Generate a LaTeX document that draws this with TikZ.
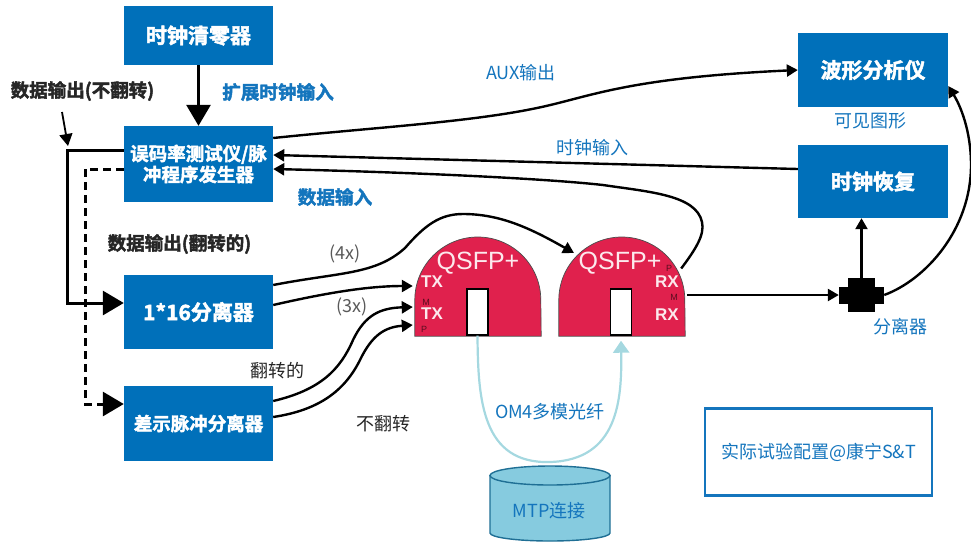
\documentclass[tikz,border=0pt]{standalone}
\usepackage{fontspec}
\setmainfont{Noto Sans CJK SC}
\newfontfamily\heavyfont[FakeBold=2.2]{Noto Sans CJK SC Bold}
\newfontfamily\qfont{Liberation Sans}
\usetikzlibrary{arrows.meta,calc}
\definecolor{boxblue}{HTML}{0070BA}
\definecolor{lblblue}{HTML}{1475BD}
\definecolor{qred}{HTML}{E0214D}
\definecolor{fibre}{HTML}{A5D8E0}
\definecolor{cylfill}{HTML}{86CBDF}
\definecolor{cylline}{HTML}{1F6F95}
\tikzset{
  bluebox/.style={fill=boxblue,text=white,inner sep=0pt,minimum width=149pt,align=center,font=\heavyfont\fontsize{18.5}{21}\selectfont},
  bigtext/.style={font=\heavyfont\fontsize{21}{24}\selectfont},
  blab/.style={text=lblblue,inner sep=0pt,font=\fontsize{18}{21}\selectfont},
  bhead/.style={text=lblblue,inner sep=0pt,font=\heavyfont\fontsize{18.6}{21}\selectfont},
  khead/.style={text=black!85,inner sep=0pt,font=\heavyfont\fontsize{18.5}{21}\selectfont},
  dlab/.style={text=black!85,inner sep=0pt,font=\fontsize{18}{21}\selectfont},
  glab/.style={text=black!65,inner sep=0pt,font=\fontsize{18}{21}\selectfont},
  qtitle/.style={text=white!90!qred,inner sep=0pt,font=\qfont\fontsize{25}{27}\selectfont},
  qport/.style={text=white!90!qred,inner sep=0pt,font=\qfont\bfseries\fontsize{17}{19}\selectfont},
  qpin/.style={text=black!60!qred,inner sep=0pt,font=\qfont\fontsize{9}{10}\selectfont},
  ghost/.style={inner sep=0pt,minimum width=#1},
  wire/.style={draw=black,line width=2.4pt,-{Triangle[length=11pt,width=12pt]}},
  bigwire/.style={draw=black,line width=3pt,-{Triangle[length=21pt,width=24pt]}},
  dashwire/.style={bigwire,dash pattern=on 8pt off 5pt},
  fibrewire/.style={draw=fibre,line width=2.2pt,-{Triangle[length=12pt,width=16pt]}}
}
\begin{document}
\begin{tikzpicture}[x=1pt,y=-1pt]
\useasboundingbox (0,0) rectangle (971,542);
% boxes
\node[bluebox,bigtext,minimum height=59pt] (clr) at (198.5,35.5) {时钟清零器};
\node[bluebox,minimum height=76pt] (bert) at (198.5,164) {误码率测试仪/脉\\冲程序发生器};
\node[bluebox,bigtext,minimum height=74pt] (split16) at (198.5,312) {1*16分离器};
\node[bluebox,minimum height=75pt] (diff) at (198.5,423.5) {差示脉冲分离器};
\node[bluebox,bigtext,minimum height=74pt,minimum width=150pt] (wave) at (873,70) {波形分析仪};
\node[bluebox,bigtext,minimum height=73pt,minimum width=150pt] (crec) at (873,181.5) {时钟恢复};
% QSFP bodies
\node[ghost=126pt,minimum height=99pt] (qL) at (478,286.5) {};
\node[ghost=126pt,minimum height=99pt] (qR) at (622,286.5) {};
\foreach \q in {qL,qR}{
  \fill[qred,draw=black!70,line width=.7pt] (\q.south west) -- ($(\q.west)+(0,13.5)$) arc[start angle=180,end angle=0,radius=63pt] -- (\q.south east) -- cycle;
}
\node[draw=black,fill=white,line width=1.4pt,inner sep=0pt,minimum width=21pt,minimum height=46pt] (slotL) at (477.5,312) {};
\node[draw=black,fill=white,line width=1.4pt,inner sep=0pt,minimum width=21pt,minimum height=46pt] (slotR) at (621,312) {};
\node[qtitle] (qtL) at (478,263) {QSFP+};
\node[qtitle] (qtR) at (620,263) {QSFP+};
\node[qport] (tx1) at (432,282) {TX};
\node[qport] (tx2) at (432,314) {TX};
\node[qport] (rx1) at (667,282) {RX};
\node[qport] (rx2) at (667,315) {RX};
\node[qpin] (mL) at (426,302) {M};
\node[qpin] (pL) at (424,329) {P};
\node[qpin] (pR) at (669,268) {P};
\node[qpin] (mR) at (674,297) {M};
% splitter
\node[ghost=45pt,minimum height=34pt] (spl) at (861.5,295) {};
\fill[black] (848,278) rectangle (875,312);
\fill[black] (839,287) rectangle (884,304);
% cylinder
\node[ghost=120pt,minimum height=75pt] (mtp) at (550,503.5) {};
\fill[cylfill,draw=cylline,line width=1.4pt] (490,475.5) -- (490,533) arc[start angle=180,end angle=360,x radius=60pt,y radius=8pt] -- (610,475.5) -- cycle;
\fill[cylfill,draw=cylline,line width=1.4pt] (550,475.5) ellipse[x radius=60pt,y radius=9.5pt];
\node[blab] (mtpt) at (549,511) {MTP连接};
% result box
\node[draw=lblblue,line width=2.4pt,minimum width=227pt,minimum height=87pt,inner sep=0pt,blab] (note) at (818.5,452) {实际试验配置@康宁S\&T};
% connectors
\draw[bigwire] (clr.south) -- (bert.north);
\coordinate (noflip) at (62,112);
\draw[draw=black,line width=1.8pt,-{Triangle[length=12pt,width=13pt]}] (noflip) -- (68,146);
\draw[bigwire] ([yshift=14pt]bert.west) -- (67,150) |- (split16.west |- 0,303);
\draw[dashwire] ([yshift=-5pt]bert.west) -- (85,169) |- (diff.west |- 0,404);
\draw[wire] ([yshift=26pt]bert.east) .. controls (380,127) and (470,122) .. (537,108) .. controls (590,97) and (625,78) .. (wave.west);
\draw[wire] ([yshift=12.5pt]crec.west) -- ([yshift=9pt]bert.east);
\draw[wire] ([xshift=-4pt,yshift=18pt]qR.east) .. controls (695,250) and (705,235) .. (702,222) .. controls (696,195) and (650,192) .. (603,185) .. controls (540,178) and (400,172) .. ([yshift=-5pt]bert.east);
\draw[wire] ([yshift=27pt]split16.east) .. controls (340,272) and (375,275) .. (405,248) .. controls (425,225) and (440,214) .. (463,214) .. controls (500,214) and (530,228) .. (574,253);
\draw[wire] ([yshift=7pt]split16.east) .. controls (330,292) and (370,286) .. ([yshift=0.5pt,xshift=-2pt]qL.west);
\draw[wire] ([yshift=22.5pt]diff.east) .. controls (320,390) and (340,370) .. (353,340) .. controls (365,315) and (380,308) .. ([yshift=-20.5pt,xshift=-2pt]qL.west);
\draw[wire] ([yshift=6.5pt]diff.east) .. controls (320,410) and (345,390) .. (360,360) .. controls (372,335) and (385,327) .. ([yshift=-38.5pt,xshift=-2pt]qL.west);
\draw[fibrewire] (slotL.south) .. controls (478,400) and (482,464) .. (550,462) .. controls (618,460) and (622,400) .. ([yshift=-5pt]slotR.south);
\draw[wire] ([xshift=2pt,yshift=-8.5pt]qR.east) -- (spl.west);
\draw[wire] ([yshift=17pt]spl.center) -- (crec.south -| spl.center);
\draw[wire] (spl.east) .. controls (925,280) and (971,230) .. (971,165) .. controls (971,130) and (960,105) .. ([yshift=-16pt]wave.east);
% labels
\node[bhead] (l1) at (278,92) {扩展时钟输入};
\node[khead] (l2) at (82.5,91) {数据输出(不翻转)};
\node[bhead] (l3) at (335,197) {数据输入};
\node[khead] (l4) at (179.5,244) {数据输出(翻转的)};
\node[glab] (l5) at (345,254) {(4x)};
\node[glab] (l6) at (352,307) {(3x)};
\node[blab] (l7) at (521,73) {AUX输出};
\node[blab] (l8) at (592,148) {时钟输入};
\node[blab] (l9) at (870,121) {可见图形};
\node[blab] (l10) at (900,327) {分离器};
\node[dlab] (l11) at (277,371) {翻转的};
\node[dlab] (l12) at (383,424) {不翻转};
\node[blab] (l13) at (550,412) {OM4多模光纤};
\end{tikzpicture}
\end{document}
